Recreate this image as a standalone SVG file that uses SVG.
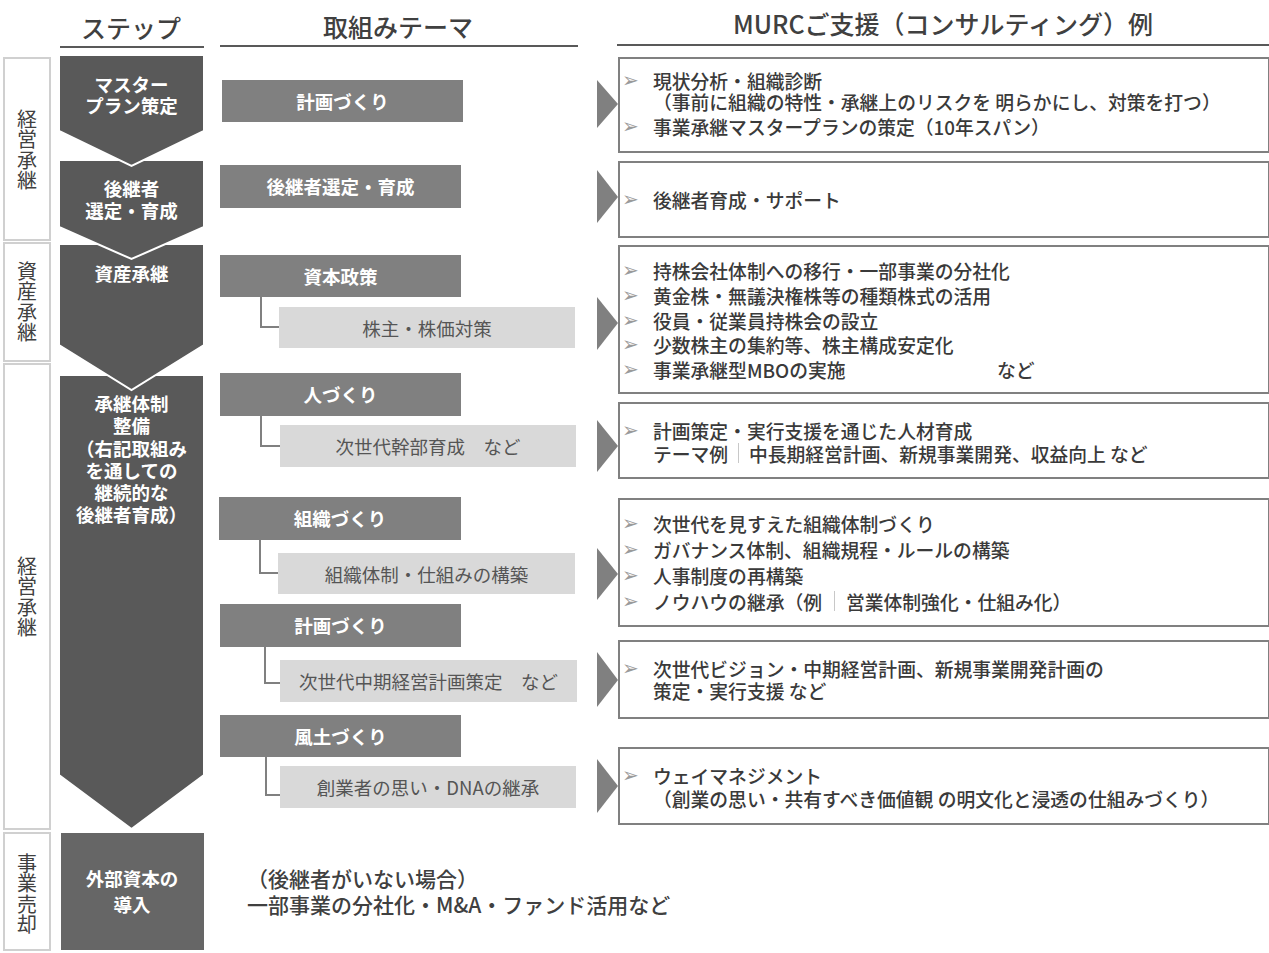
<svg xmlns="http://www.w3.org/2000/svg" width="1269" height="953" viewBox="0 0 1269 953">
<style>
text{font-family:"Noto Sans CJK JP","Noto Sans",sans-serif;dominant-baseline:central}
.hd{font-size:25px;font-weight:500;fill:#404040;text-anchor:middle}
.hl{stroke:#595959;stroke-width:2;fill:none}
.lbox{fill:#fff;stroke:#d0d0d0;stroke-width:2}
.vt{font-size:20px;fill:#404040;text-anchor:middle;writing-mode:vertical-rl;text-orientation:upright;letter-spacing:0.5px}
.step{fill:#595959;stroke:#fff;stroke-width:2}
.stt{font-size:18.5px;font-weight:700;fill:#fff;text-anchor:middle}
.mbox{fill:#808080}
.mt{font-size:18.5px;font-weight:700;fill:#fff;text-anchor:middle}
.sbox{fill:#d9d9d9}
.st{font-size:18.5px;fill:#555;text-anchor:middle}
.conn{stroke:#808080;stroke-width:2;fill:none}
.arr{fill:#808080}
.rbox{fill:#fff;stroke:#808080;stroke-width:2}
.rt{font-size:18.8px;font-weight:500;fill:#3a3a3a}
.bl{font-family:"DejaVu Sans",sans-serif;font-size:20px;fill:#9a9a9a}
.sep{stroke:#c8c8c8;stroke-width:1}
.bt{font-size:21px;font-weight:500;fill:#404040}
</style>

<g id="headers">
  <text class="hd" x="131" y="27">ステップ</text>
  <line class="hl" x1="60" y1="47" x2="204" y2="47"/>
  <text class="hd" x="398" y="26">取組みテーマ</text>
  <line class="hl" x1="220" y1="46" x2="578" y2="46"/>
  <text class="hd" x="943" y="23">MURCご支援（コンサルティング）例</text>
  <line class="hl" x1="617" y1="45" x2="1269" y2="45"/>
</g>

<g id="label-keiei1">
  <rect class="lbox" x="4" y="58" width="46" height="182"/>
  <text class="vt" x="27" y="150">経営承継</text>
</g>
<g id="label-shisan">
  <rect class="lbox" x="4" y="243" width="46" height="118"/>
  <text class="vt" x="27" y="302">資産承継</text>
</g>
<g id="label-keiei2">
  <rect class="lbox" x="4" y="364" width="46" height="465"/>
  <text class="vt" x="27" y="597">経営承継</text>
</g>
<g id="label-baikyaku">
  <rect class="lbox" x="4" y="833" width="46" height="117"/>
  <text class="vt" x="27" y="894">事業売却</text>
</g>

<g id="step5">
  <rect x="61" y="833" width="143" height="117" fill="#666"/>
  <text class="stt"><tspan x="132" y="878">外部資本の</tspan><tspan x="132" y="904">導入</tspan></text>
</g>
<g id="step4">
  <path class="step" d="M59 375H204V775L131.5 829L59 775Z"/>
  <text class="stt"><tspan x="131.5" y="403">承継体制</tspan><tspan x="131.5" y="425">整備</tspan><tspan x="131.5" y="448">（右記取組み</tspan><tspan x="131.5" y="470">を通しての</tspan><tspan x="131.5" y="492">継続的な</tspan><tspan x="131.5" y="514">後継者育成）</tspan></text>
</g>
<g id="step3">
  <path class="step" d="M59 244H204V345L131.5 390L59 345Z"/>
  <text class="stt" x="131.5" y="273">資産承継</text>
</g>
<g id="step2">
  <path class="step" d="M59 160H204V227L131.5 259L59 227Z"/>
  <text class="stt"><tspan x="131.5" y="188">後継者</tspan><tspan x="131.5" y="210">選定・育成</tspan></text>
</g>
<g id="step1">
  <path class="step" d="M59 55H204V131L131.5 166L59 131Z"/>
  <text class="stt"><tspan x="131.5" y="84">マスター</tspan><tspan x="131.5" y="105">プラン策定</tspan></text>
</g>

<g id="connectors">
  <path class="conn" d="M261 297V327H279"/>
  <path class="conn" d="M261 416V446H280"/>
  <path class="conn" d="M260 540V573H278"/>
  <path class="conn" d="M265 647V683H280"/>
  <path class="conn" d="M266 757V795H280"/>
  <path class="arr" d="M597 80V128L618 104Z"/>
  <path class="arr" d="M597 170V223L618 197Z"/>
  <path class="arr" d="M597 297V350L618 323Z"/>
  <path class="arr" d="M597 420V472L618 446Z"/>
  <path class="arr" d="M597 548V600L618 574Z"/>
  <path class="arr" d="M597 652V707L618 680Z"/>
  <path class="arr" d="M597 759V813L618 786Z"/>
</g>

<g id="theme-keikaku1">
  <rect class="mbox" x="222" y="80" width="241" height="42"/>
  <text class="mt" x="342.5" y="101">計画づくり</text>
</g>
<g id="theme-koukeisha">
  <rect class="mbox" x="220" y="165" width="241" height="43"/>
  <text class="mt" x="340.5" y="186">後継者選定・育成</text>
</g>
<g id="theme-shihon">
  <rect class="mbox" x="220" y="255" width="241" height="42"/>
  <text class="mt" x="340.5" y="276">資本政策</text>
</g>
<g id="sub-kabunushi">
  <rect class="sbox" x="279" y="307" width="296" height="41"/>
  <text class="st" x="427" y="328">株主・株価対策</text>
</g>
<g id="theme-hito">
  <rect class="mbox" x="220" y="373" width="241" height="43"/>
  <text class="mt" x="340.5" y="394">人づくり</text>
</g>
<g id="sub-kanbu">
  <rect class="sbox" x="280" y="425" width="296" height="42"/>
  <text class="st" x="428" y="446">次世代幹部育成　など</text>
</g>
<g id="theme-soshiki">
  <rect class="mbox" x="219" y="497" width="242" height="43"/>
  <text class="mt" x="340" y="518">組織づくり</text>
</g>
<g id="sub-soshiki">
  <rect class="sbox" x="278" y="553" width="297" height="41"/>
  <text class="st" x="426.5" y="574">組織体制・仕組みの構築</text>
</g>
<g id="theme-keikaku2">
  <rect class="mbox" x="220" y="604" width="241" height="43"/>
  <text class="mt" x="340.5" y="625">計画づくり</text>
</g>
<g id="sub-chuuki">
  <rect class="sbox" x="280" y="660" width="297" height="42"/>
  <text class="st" x="428.5" y="681">次世代中期経営計画策定　など</text>
</g>
<g id="theme-fuudo">
  <rect class="mbox" x="220" y="715" width="241" height="42"/>
  <text class="mt" x="340.5" y="736">風土づくり</text>
</g>
<g id="sub-dna">
  <rect class="sbox" x="280" y="766" width="296" height="42"/>
  <text class="st" x="428" y="787">創業者の思い・DNAの継承</text>
</g>

<g id="support1">
  <rect class="rbox" x="619" y="58" width="650" height="94"/>
  <text class="bl"><tspan x="622" y="80">➢</tspan><tspan x="622" y="126">➢</tspan></text>
  <text class="rt"><tspan x="653" y="80">現状分析・組織診断</tspan><tspan x="653" y="101">（事前に組織の特性・承継上のリスクを 明らかにし、対策を打つ）</tspan><tspan x="653" y="126">事業承継マスタープランの策定（10年スパン）</tspan></text>
</g>
<g id="support2">
  <rect class="rbox" x="619" y="162" width="650" height="75"/>
  <text class="bl" x="622" y="199">➢</text>
  <text class="rt" x="653" y="199">後継者育成・サポート</text>
</g>
<g id="support3">
  <rect class="rbox" x="619" y="246" width="650" height="147"/>
  <text class="bl"><tspan x="622" y="270">➢</tspan><tspan x="622" y="295">➢</tspan><tspan x="622" y="320">➢</tspan><tspan x="622" y="344">➢</tspan><tspan x="622" y="369">➢</tspan></text>
  <text class="rt"><tspan x="653" y="270">持株会社体制への移行・一部事業の分社化</tspan><tspan x="653" y="295">黄金株・無議決権株等の種類株式の活用</tspan><tspan x="653" y="320">役員・従業員持株会の設立</tspan><tspan x="653" y="344">少数株主の集約等、株主構成安定化</tspan><tspan x="653" y="369">事業承継型MBOの実施</tspan><tspan x="997" y="369">など</tspan></text>
</g>
<g id="support4">
  <rect class="rbox" x="619" y="403" width="650" height="75"/>
  <text class="bl" x="622" y="430">➢</text>
  <text class="rt"><tspan x="653" y="430">計画策定・実行支援を通じた人材育成</tspan><tspan x="653" y="453">テーマ例</tspan><tspan x="749" y="453">中長期経営計画、新規事業開発、収益向上 など</tspan></text>
  <line class="sep" x1="738.5" y1="443" x2="738.5" y2="463"/>
</g>
<g id="support5">
  <rect class="rbox" x="619" y="499" width="650" height="127"/>
  <text class="bl"><tspan x="622" y="523">➢</tspan><tspan x="622" y="549">➢</tspan><tspan x="622" y="575">➢</tspan><tspan x="622" y="601">➢</tspan></text>
  <text class="rt"><tspan x="653" y="523">次世代を見すえた組織体制づくり</tspan><tspan x="653" y="549">ガバナンス体制、組織規程・ルールの構築</tspan><tspan x="653" y="575">人事制度の再構築</tspan><tspan x="653" y="601">ノウハウの継承（例</tspan><tspan x="846" y="601">営業体制強化・仕組み化）</tspan></text>
  <line class="sep" x1="834.5" y1="591" x2="834.5" y2="611"/>
</g>
<g id="support6">
  <rect class="rbox" x="619" y="641" width="650" height="77"/>
  <text class="bl" x="622" y="668">➢</text>
  <text class="rt"><tspan x="653" y="668">次世代ビジョン・中期経営計画、新規事業開発計画の</tspan><tspan x="653" y="690">策定・実行支援 など</tspan></text>
</g>
<g id="support7">
  <rect class="rbox" x="619" y="748" width="650" height="76"/>
  <text class="bl" x="622" y="775">➢</text>
  <text class="rt"><tspan x="653" y="775">ウェイマネジメント</tspan><tspan x="653" y="798">（創業の思い・共有すべき価値観 の明文化と浸透の仕組みづくり）</tspan></text>
</g>

<g id="baikyaku-note">
  <text class="bt"><tspan x="247" y="878">（後継者がいない場合）</tspan><tspan x="247" y="904">一部事業の分社化・M&amp;A・ファンド活用など</tspan></text>
</g>
</svg>
